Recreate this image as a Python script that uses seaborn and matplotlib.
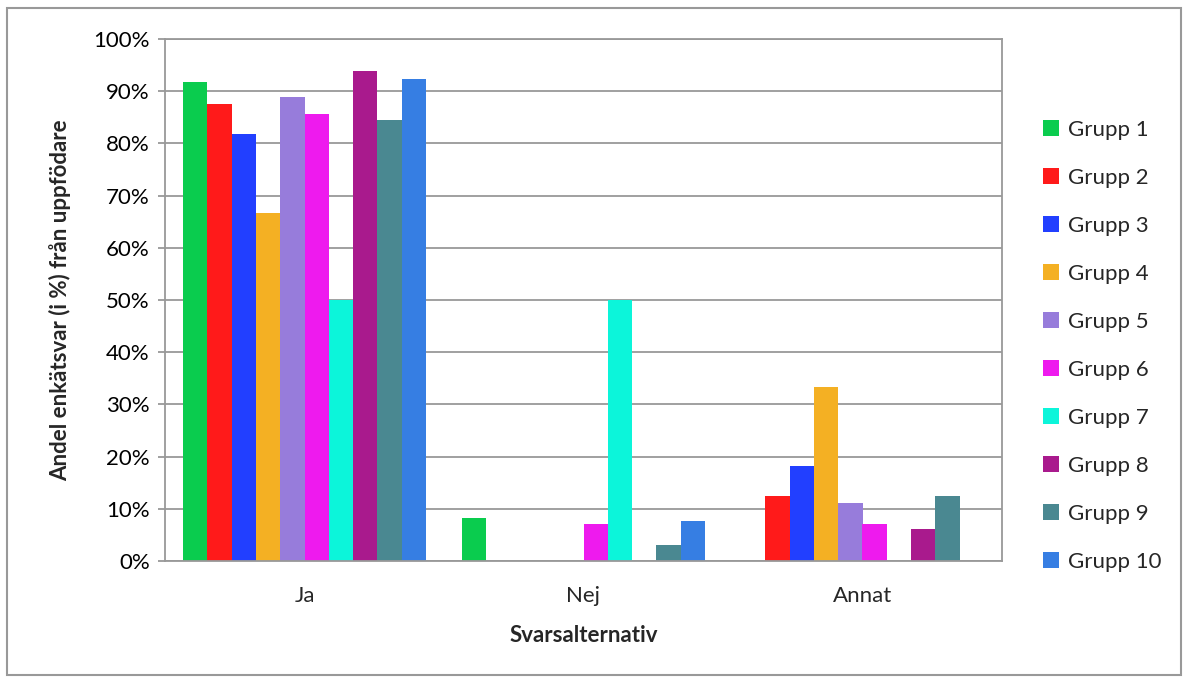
import matplotlib
matplotlib.use("Agg")
import matplotlib.pyplot as plt
from matplotlib.patches import Rectangle
from matplotlib.ticker import PercentFormatter
import seaborn as sns
import pandas as pd

categories = ["Ja", "Nej", "Annat"]
groups = [f"Grupp {i}" for i in range(1, 11)]
ja = [91.7, 87.5, 81.8, 66.7, 88.9, 85.7, 50.0, 93.9, 84.4, 92.3]
nej = [8.3, 0.0, 0.0, 0.0, 0.0, 7.1, 50.0, 0.0, 3.1, 7.7]
annat = [0.0, 12.5, 18.2, 33.3, 11.1, 7.1, 0.0, 6.1, 12.5, 0.0]
colors = ["#0ACC4E", "#FF1A1A", "#223FFF", "#F4B023", "#977CDB",
          "#EE1AEE", "#0CF5DA", "#A91A8D", "#4A8891", "#367EE3"]

rows = []
for cat, vals in zip(categories, [ja, nej, annat]):
    for g, v in zip(groups, vals):
        rows.append({"Svarsalternativ": cat, "Grupp": g, "Andel": v})
df = pd.DataFrame(rows)

sns.set_theme(style="white")
plt.rcParams["font.family"] = ["Lato", "DejaVu Sans"]

fig = plt.figure(figsize=(11.84, 6.77), dpi=100)
ax = fig.add_axes([165/1184, 1-561/677, (1002-165)/1184, (561-39)/677])

sns.barplot(data=df, x="Svarsalternativ", y="Andel", hue="Grupp",
            palette=colors, width=0.87, ax=ax, saturation=1, errorbar=None,
            edgecolor="none", linewidth=0)

ax.set_ylim(0, 100)
ax.set_yticks(range(0, 101, 10))
ax.yaxis.set_major_formatter(PercentFormatter(decimals=0))
ax.grid(axis="y", color="#999999", linewidth=1.3)
ax.set_axisbelow(True)
for s in ax.spines.values():
    s.set_color("#999999")
    s.set_linewidth(1.3)
ax.tick_params(axis="y", labelsize=16, colors="#999999", labelcolor="black",
               length=5, width=1.3, left=True, pad=6)
ax.tick_params(axis="x", labelsize=16, length=0, pad=18)
ax.set_xlabel("Svarsalternativ", fontsize=16, fontweight="bold", labelpad=14)
ax.set_ylabel("Andel enkätsvar (i %) från uppfödare", fontsize=16,
              fontweight="bold", labelpad=16)

leg = ax.legend(loc="upper left", bbox_to_anchor=(1.038, 0.862), frameon=False,
                fontsize=16, handlelength=0.75, handleheight=0.75,
                handletextpad=0.4, labelspacing=1.26, borderaxespad=0)

fig.patches.append(Rectangle((7/1184, 2/677), 1174/1184, 667/677,
                             transform=fig.transFigure, fill=False,
                             edgecolor="#999999", linewidth=1.5))

fig.savefig("out.png", dpi=100, facecolor="white")
